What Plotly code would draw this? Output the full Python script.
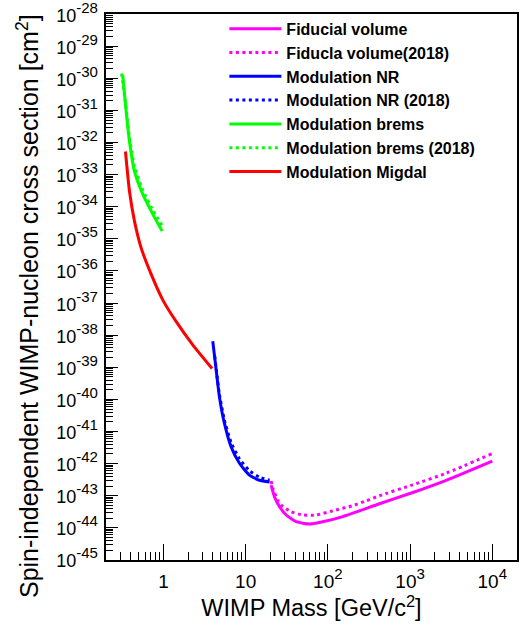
import plotly.graph_objects as go

# WIMP mass [GeV/c^2] and log10 of the cross-section limit [cm^2]
fid_mass = [20.4, 22.4, 25.8, 31.1, 41.1, 59.7, 86.7, 152, 424, 1080, 2750, 10000]
fid_logxs = [-42.67, -43.03, -43.34, -43.60, -43.81, -43.88, -43.81, -43.65, -43.25, -42.90, -42.52, -41.92]

fid18_mass = [20.4, 21.4, 24.6, 28.3, 35.8, 49.6, 72.1, 115, 201, 292, 424, 1080, 2750, 10000]
fid18_logxs = [-42.54, -42.77, -43.14, -43.34, -43.50, -43.60, -43.60, -43.47, -43.31, -43.16, -43.00, -42.66, -42.30, -41.69]

nr_mass = [3.98, 4.29, 4.80, 5.52, 6.66, 8.41, 11.1, 14.7, 19.5]
nr_logxs = [-38.19, -38.89, -39.93, -40.75, -41.48, -41.99, -42.36, -42.52, -42.57]

nr18_mass = [4.2, 4.8, 5.52, 6.66, 8.41, 11.1, 14.7, 19.5]
nr18_logxs = [-38.65, -39.85, -40.65, -41.35, -41.85, -42.22, -42.42, -42.52]

brems_mass = [0.32, 0.352, 0.386, 0.444, 0.56, 0.741, 0.964]
brems_logxs = [-29.92, -31.04, -31.97, -32.90, -33.61, -34.23, -34.76]

brems18_mass = [0.31, 0.352, 0.386, 0.444, 0.56, 0.741, 0.98]
brems18_logxs = [-29.85, -30.95, -31.85, -32.75, -33.48, -34.10, -34.62]

migdal_mass = [0.345, 0.386, 0.444, 0.535, 0.708, 0.98, 1.43, 2.27, 3.91]
migdal_logxs = [-32.28, -33.52, -34.45, -35.28, -36.10, -36.90, -37.58, -38.30, -39.04]

y_exponents = list(range(-45, -27))
x_tickvals = [1, 10, 100, 1000, 10000]
x_exponents = [0, 1, 2, 3, 4]

x_title = "WIMP Mass [GeV/c<sup>2</sup>]"
y_title = "Spin-independent WIMP-nucleon cross section [cm<sup>2</sup>]"

series = [
    ("Fiducial volume", fid_mass, fid_logxs, "#ff00ff", "solid"),
    ("Fiducla volume(2018)", fid18_mass, fid18_logxs, "#ff00ff", "3px,3.5px"),
    ("Modulation NR", nr_mass, nr_logxs, "#0000ff", "solid"),
    ("Modulation NR (2018)", nr18_mass, nr18_logxs, "#0000ff", "3px,3.5px"),
    ("Modulation brems", brems_mass, brems_logxs, "#00ff00", "solid"),
    ("Modulation brems (2018)", brems18_mass, brems18_logxs, "#00ff00", "3px,3.5px"),
    ("Modulation Migdal", migdal_mass, migdal_logxs, "#ff0000", "solid"),
]

fig = go.Figure()
for name, m, lx, color, dash in series:
    fig.add_trace(go.Scatter(
        x=m, y=[10 ** v for v in lx], mode="lines", name=name,
        line=dict(color=color, width=3, dash=dash, shape="spline", smoothing=0.5),
    ))

font_family = "Arial, Liberation Sans, sans-serif"


def power_label(exp, base_size):
    # "10" at base_size, exponent at 70% of the (larger) tick font
    return f"<span style='font-size:{base_size}px'>10</span><sup>{exp}</sup>"


def x_label(exp):
    if exp == 0:
        return "<span style='font-size:19px'>1</span>"
    if exp == 1:
        return "<span style='font-size:19px'>10</span>"
    return power_label(exp, 19)


fig.update_layout(
    width=529, height=626,
    margin=dict(l=106, r=12, t=12, b=66),
    paper_bgcolor="white", plot_bgcolor="white",
    font=dict(family=font_family, color="black", size=18),
    showlegend=True,
    legend=dict(
        x=0.288, y=1.004, xanchor="left", yanchor="top",
        bgcolor="rgba(0,0,0,0)", borderwidth=0,
        font=dict(family=font_family, size=16, color="black", weight="bold"),
        itemwidth=52, tracegroupgap=0,
    ),
)

fig.update_xaxes(
    type="log", range=[-0.69897, 4.30103], automargin=False,
    tickvals=x_tickvals,
    ticktext=[x_label(e) for e in x_exponents],
    ticks="inside", ticklen=16, tickwidth=1, tickcolor="black",
    minor=dict(ticks="inside", ticklen=8, tickwidth=1, tickcolor="black", dtick="D1", showgrid=False),
    showline=True, linecolor="black", linewidth=1.5, mirror=True,
    showgrid=False, zeroline=False,
    tickfont=dict(size=21.5),
    title=dict(text=x_title, font=dict(size=23.5), standoff=8),
)

fig.update_yaxes(
    type="log", range=[-45.002, -27.998], automargin=False,
    tickvals=[10 ** e for e in y_exponents],
    ticktext=[power_label(e, 18) for e in y_exponents],
    ticklabeloverflow="allow", ticklabelstandoff=2,
    ticks="inside", ticklen=12, tickwidth=1, tickcolor="black",
    minor=dict(ticks="inside", ticklen=7, tickwidth=1, tickcolor="black", dtick="D1", showgrid=False),
    showline=True, linecolor="black", linewidth=1.5, mirror=True,
    showgrid=False, zeroline=False,
    tickfont=dict(size=21.5),
)

# y-axis title placed as a rotated annotation so it can sit slightly below centre
fig.add_annotation(
    text=y_title, textangle=-90, showarrow=False,
    xref="paper", yref="paper", x=-0.19, y=0.465,
    xanchor="center", yanchor="middle",
    font=dict(family=font_family, size=25, color="black"),
)

fig.write_html("out.html")
